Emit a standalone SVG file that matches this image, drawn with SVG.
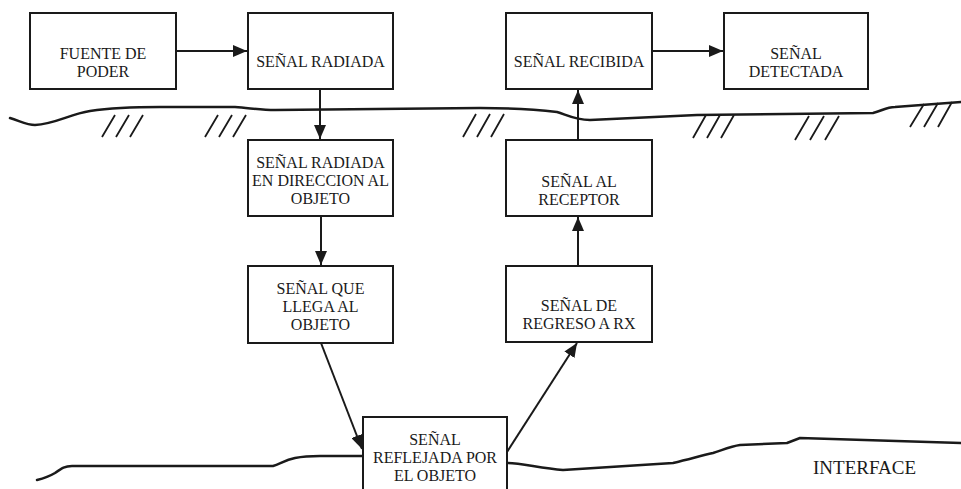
<svg xmlns="http://www.w3.org/2000/svg" width="961" height="489" viewBox="0 0 961 489">
  <defs>
    <marker id="arr" markerWidth="14" markerHeight="12" refX="14" refY="6" orient="auto" markerUnits="userSpaceOnUse">
      <path d="M0,0 L14,6 L0,12 Z" fill="#1a1a1a"/>
    </marker>
  </defs>
  <style>
    .box { fill: #ffffff; stroke: #1a1a1a; stroke-width: 2; }
    .lbl { font-family: "Liberation Serif", "Times New Roman", serif; font-size: 16px; fill: #1a1a1a; text-anchor: middle; }
    .conn { fill: none; stroke: #1a1a1a; stroke-width: 2; marker-end: url(#arr); }
    .ground { fill: none; stroke: #1a1a1a; stroke-width: 2.5; stroke-linejoin: round; stroke-linecap: round; }
    .hatch { fill: none; stroke: #1a1a1a; stroke-width: 1.8; }
  </style>
  <rect width="961" height="489" fill="#ffffff"/>

  <g id="surface">
    <path class="ground" d="M10,118 C20,121 27,125 35,125 C55,124 70,114 90,111 C110,108 130,107 160,107 L235,107 C250,108 260,110 275,110 L480,108 C520,108 540,110 557,112 C567,115 575,120 590,120 L697,115 L873,113 C882,111 886,107 895,107 L961,102"/>
    <g class="hatch">
      <path d="M115,115 L102,137 M129,115 L116,137 M143,115 L130,137"/>
      <path d="M218,115 L205,137 M232,115 L219,137 M246,115 L233,137"/>
      <path d="M476,114 L463,137 M490,114 L477,137 M504,114 L491,137"/>
      <path d="M706,115 L693,138 M720,115 L707,138 M734,115 L721,138"/>
      <path d="M809,116 L795,140 M824,116 L810,140 M839,116 L825,140"/>
      <path d="M924,104 L910,127 M938,103 L924,127 M952,102 L938,127"/>
    </g>
  </g>

  <g id="interface">
    <path class="ground" d="M37,480 C45,478 50,476 55,473 C62,468 65,466 72,466 L133,466 L273,466 C280,464 285,460 295,458 C305,456 315,456 320,456 L363,456"/>
    <path class="ground" d="M507,463 C520,463 540,468 563,470 L673,463 C690,459 700,456 713,453 C725,449 732,446 740,445 L787,443 L800,438 L961,443"/>
    <text x="813" y="474" style="font-family: 'Liberation Serif', 'Times New Roman', serif; font-size: 19px; fill: #1a1a1a;">INTERFACE</text>
  </g>

  <g id="n-fuente">
    <rect class="box" x="30" y="13" width="146" height="76"/>
    <text class="lbl" x="103" y="59">FUENTE DE</text>
    <text class="lbl" x="103" y="77">PODER</text>
  </g>
  <g id="n-radiada">
    <rect class="box" x="248" y="13" width="145" height="76"/>
    <text class="lbl" x="320.5" y="67">SEÑAL RADIADA</text>
  </g>
  <g id="n-direccion">
    <rect class="box" x="248" y="140" width="145" height="76"/>
    <text class="lbl" x="320.5" y="168">SEÑAL RADIADA</text>
    <text class="lbl" x="320.5" y="186">EN DIRECCION AL</text>
    <text class="lbl" x="320.5" y="204">OBJETO</text>
  </g>
  <g id="n-llega">
    <rect class="box" x="248" y="266" width="145" height="77"/>
    <text class="lbl" x="320.5" y="294">SEÑAL QUE</text>
    <text class="lbl" x="320.5" y="312">LLEGA AL</text>
    <text class="lbl" x="320.5" y="330">OBJETO</text>
  </g>
  <g id="n-reflejada">
    <rect class="box" x="363" y="417" width="144" height="90"/>
    <text class="lbl" x="435" y="445">SEÑAL</text>
    <text class="lbl" x="435" y="463">REFLEJADA POR</text>
    <text class="lbl" x="435" y="481">EL OBJETO</text>
  </g>
  <g id="n-regreso">
    <rect class="box" x="506" y="266" width="146" height="76"/>
    <text class="lbl" x="579" y="311">SEÑAL DE</text>
    <text class="lbl" x="579" y="329">REGRESO A RX</text>
  </g>
  <g id="n-receptor">
    <rect class="box" x="506" y="140" width="146" height="76"/>
    <text class="lbl" x="579" y="187">SEÑAL AL</text>
    <text class="lbl" x="579" y="205">RECEPTOR</text>
  </g>
  <g id="n-recibida">
    <rect class="box" x="506" y="13" width="146" height="76"/>
    <text class="lbl" x="579" y="67">SEÑAL RECIBIDA</text>
  </g>
  <g id="n-detectada">
    <rect class="box" x="724" y="13" width="144" height="76"/>
    <text class="lbl" x="796" y="59">SEÑAL</text>
    <text class="lbl" x="796" y="77">DETECTADA</text>
  </g>

  <g id="connectors">
    <path class="conn" d="M176,51 L247,51"/>
    <path class="conn" d="M320,89 L320,139"/>
    <path class="conn" d="M321,216 L321,265"/>
    <path class="conn" d="M321,343 L362,449"/>
    <path class="conn" d="M507,452 L577,343"/>
    <path class="conn" d="M578,266 L578,217"/>
    <path class="conn" d="M578,140 L578,90"/>
    <path class="conn" d="M652,51 L723,51"/>
  </g>
</svg>
